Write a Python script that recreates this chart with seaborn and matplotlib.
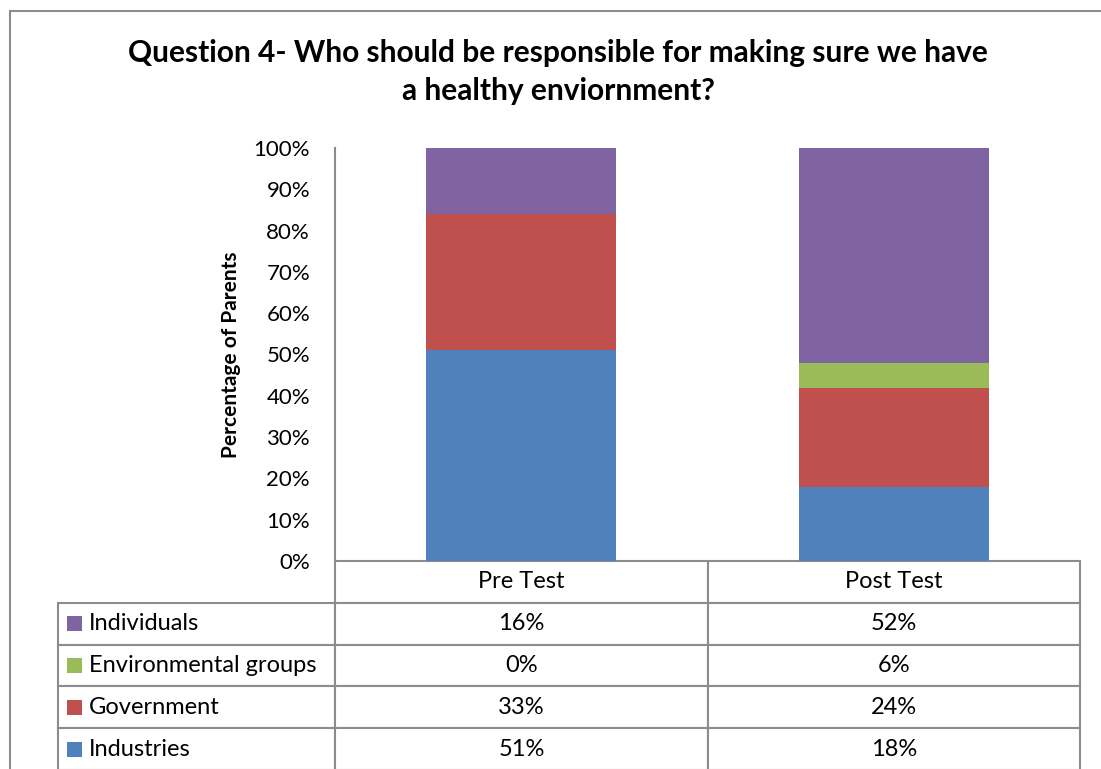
import numpy as np
import pandas as pd
import seaborn as sns
import matplotlib.pyplot as plt
from matplotlib.patches import Rectangle

# Data
tests = ['Pre Test', 'Post Test']
series = ['Individuals', 'Environmental groups', 'Government', 'Industries']
individuals = [16, 52]
environmental = [0, 6]
government = [33, 24]
industries = [51, 18]
colors = {'Industries': '#4F81BD', 'Government': '#C0504D',
          'Environmental groups': '#9BBB59', 'Individuals': '#8064A2'}

values = {'Individuals': individuals, 'Environmental groups': environmental,
          'Government': government, 'Industries': industries}

sns.set_style('white')
plt.rcParams['font.family'] = ['Lato', 'DejaVu Sans']
plt.rcParams['text.color'] = 'black'
plt.rcParams['axes.labelcolor'] = 'black'
plt.rcParams['ytick.color'] = 'black'

fig = plt.figure(figsize=(11.01, 7.69), dpi=100)
ax = fig.add_axes([335 / 1101, 1 - 561 / 769, 745 / 1101, 413 / 769])

# Stacked bars, bottom series first
bottom = np.zeros(len(tests))
for name in reversed(series):
    df = pd.DataFrame({'test': tests, 'pct': values[name]})
    sns.barplot(data=df, x='test', y='pct', color=colors[name], saturation=1,
                width=0.51, bottom=bottom, linewidth=0, ax=ax)
    bottom = bottom + np.array(values[name])

ax.set_ylim(0, 100)
ax.set_xlim(-0.5, 1.5)
ax.set_yticks(range(0, 101, 10))
ax.set_yticklabels([f'{t}%' for t in range(0, 101, 10)])
ax.tick_params(axis='y', length=0, pad=18, labelsize=16, labelcolor='black')
ax.set_xticks([])
ax.set_xlabel('')
ax.set_ylabel('Percentage of Parents', fontsize=15, fontweight='bold', labelpad=9,
              color='black')
for s in ['top', 'right', 'bottom']:
    ax.spines[s].set_visible(False)
ax.spines['left'].set_color('#8c8c8c')
ax.spines['left'].set_linewidth(1.5)

# Data table under the bars
cell_text = [['', tests[0], tests[1]]]
for name in series:
    cell_text.append(['', f'{values[name][0]}%', f'{values[name][1]}%'])
tab = ax.table(cellText=cell_text, colWidths=[277, 373, 372], cellLoc='center',
               bbox=[-277 / 745, -209 / 413, 1022 / 745, 209 / 413])
tab.auto_set_font_size(False)
tab.set_fontsize(17)
for (r, c), cell in tab.get_celld().items():
    cell.set_edgecolor('#8c8c8c')
    cell.set_linewidth(1.5)
    cell.get_text().set_color('black')
    if r == 0 and c == 0:
        cell.visible_edges = 'open'

row_h = (209 / 413) / 5
for i, name in enumerate(series):
    yc = -row_h * (i + 1.5)
    ax.add_patch(Rectangle(((67 - 335) / 745, yc - 7.5 / 413), 15 / 745, 15 / 413,
                           transform=ax.transAxes, facecolor=colors[name],
                           edgecolor='none', clip_on=False))
    ax.text((89 - 335) / 745, yc, name, transform=ax.transAxes, fontsize=17,
            ha='left', va='center', color='black')

fig.text(0.507, 1 - 72 / 769,
         'Question 4- Who should be responsible for making sure we have\na healthy enviornment?',
         ha='center', va='center', fontsize=21.5, fontweight='bold', linespacing=1.4,
         color='black')

# Chart area border
fig.patches.append(Rectangle((10 / 1101, -0.1), 1.2, 1 - 11 / 769 + 0.1,
                             transform=fig.transFigure, fill=False,
                             edgecolor='#8c8c8c', linewidth=1.5))

fig.savefig('out.png', dpi=100)
